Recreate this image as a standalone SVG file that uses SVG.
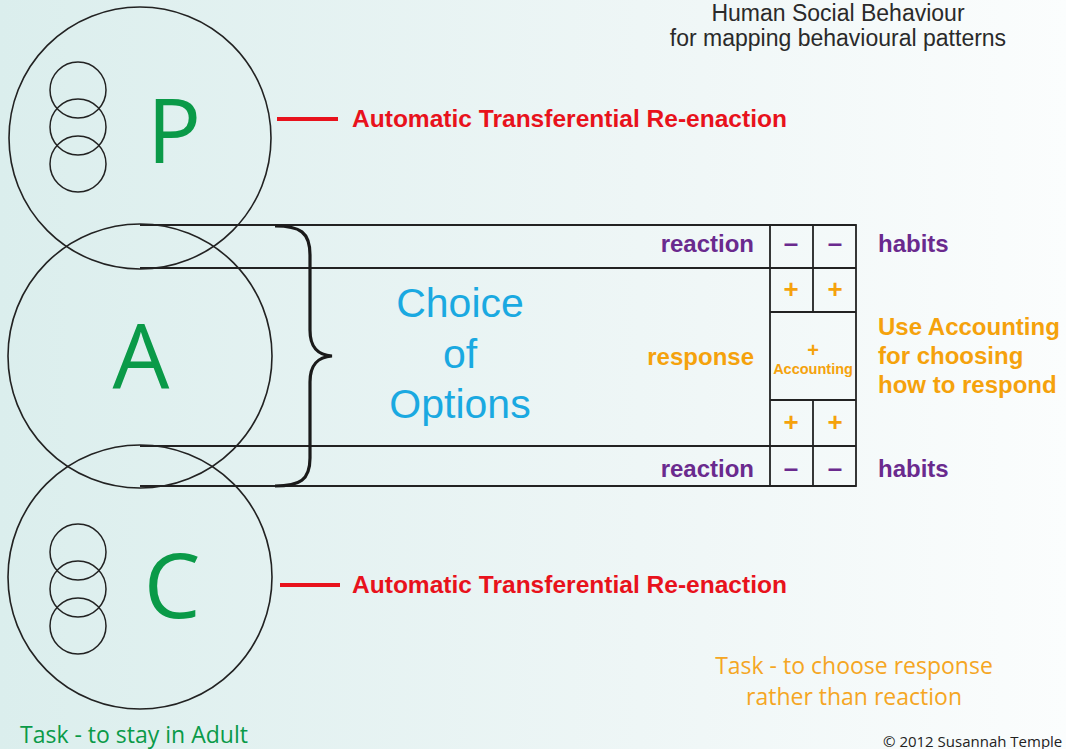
<svg xmlns="http://www.w3.org/2000/svg" width="1066" height="749" viewBox="0 0 1066 749">
<defs>
<linearGradient id="bg" x1="0" y1="0" x2="1" y2="0">
<stop offset="0" stop-color="#dbeeed"/>
<stop offset="0.6" stop-color="#eef6f6"/>
<stop offset="1" stop-color="#fbfdfd"/>
</linearGradient>
<style>
.ln{fill:none;stroke:#222;stroke-width:1.6}
.sm{fill:none;stroke:#222;stroke-width:1.5}
.tb{fill:none;stroke:#222;stroke-width:1.8}
.big{font-family:"Open Sans","Liberation Sans",sans-serif;fill:#0a9a48;text-anchor:middle}
.red{font-family:"Liberation Sans",Arial,sans-serif;font-weight:bold;font-size:24px;fill:#e8121c}
.pur{font-family:"Liberation Sans",Arial,sans-serif;font-weight:bold;font-size:24px;fill:#6a2a8e}
.org{font-family:"Liberation Sans",Arial,sans-serif;font-weight:bold;fill:#f5a20c}
.sym{font-family:"Liberation Sans",Arial,sans-serif;font-weight:bold;font-size:26px;text-anchor:middle}
.blue{font-family:"Liberation Sans",Arial,sans-serif;font-size:41px;fill:#1aa9e1;text-anchor:middle}
.ttl{font-family:"Liberation Sans",Arial,sans-serif;font-size:23px;fill:#2a2a2a;text-anchor:middle}
.task{font-family:"Open Sans","Liberation Sans",sans-serif;font-size:23px}
</style>
</defs>
<rect width="1066" height="749" fill="url(#bg)"/>

<g id="title">
<text class="ttl" x="838" y="21">Human Social Behaviour</text>
<text class="ttl" x="838" y="46">for mapping behavioural patterns</text>
</g>

<g id="node-P">
<circle class="ln" cx="140" cy="138" r="131"/>
<circle class="sm" cx="78" cy="90" r="28"/>
<circle class="sm" cx="78" cy="127" r="28"/>
<circle class="sm" cx="78" cy="164" r="28"/>
<text class="big" x="174" y="163" font-size="90">P</text>
</g>

<g id="node-A">
<circle class="ln" cx="140" cy="356" r="132"/>
<text class="big" x="141" y="388" font-size="90">A</text>
</g>

<g id="node-C">
<circle class="ln" cx="140" cy="577" r="132"/>
<circle class="sm" cx="78" cy="552" r="28"/>
<circle class="sm" cx="78" cy="589" r="28"/>
<circle class="sm" cx="78" cy="626" r="28"/>
<text class="big" x="172" y="618" font-size="90">C</text>
</g>

<g id="connectors">
<line x1="277" y1="119" x2="338" y2="119" stroke="#e8121c" stroke-width="4"/>
<line x1="280" y1="585" x2="340" y2="585" stroke="#e8121c" stroke-width="4"/>
<line class="tb" x1="140" y1="225" x2="856" y2="225"/>
<line class="tb" x1="140" y1="268" x2="770" y2="268"/>
<line class="tb" x1="140" y1="446" x2="770" y2="446"/>
<line class="tb" x1="140" y1="486" x2="856" y2="486"/>
<path d="M275,226 C300,226 310,232 310,255 L310,330 C310,348 318,355 332,356 C318,357 310,364 310,382 L310,458 C310,480 300,486 275,486" fill="none" stroke="#1a1a1a" stroke-width="3.2"/>
</g>

<g id="table">
<rect class="tb" x="770" y="225" width="86" height="261"/>
<line class="tb" x1="770" y1="268" x2="856" y2="268"/>
<line class="tb" x1="770" y1="312" x2="856" y2="312"/>
<line class="tb" x1="770" y1="400" x2="856" y2="400"/>
<line class="tb" x1="770" y1="446" x2="856" y2="446"/>
<line class="tb" x1="813" y1="225" x2="813" y2="312"/>
<line class="tb" x1="813" y1="400" x2="813" y2="486"/>
<g fill="#6a2a8e" class="sym">
<text x="791" y="252">–</text><text x="835" y="252">–</text>
<text x="791" y="477">–</text><text x="835" y="477">–</text>
</g>
<g fill="#f5a20c" class="sym" font-size="24">
<text x="791" y="298">+</text><text x="835" y="298">+</text>
<text x="791" y="431">+</text><text x="835" y="431">+</text>
<text x="813" y="357" font-size="20">+</text>
</g>
<text class="org" x="813" y="374" font-size="14.5" text-anchor="middle">Accounting</text>
</g>

<g id="labels">
<text class="red" x="352" y="127" textLength="435" lengthAdjust="spacingAndGlyphs">Automatic Transferential Re-enaction</text>
<text class="red" x="352" y="593" textLength="435" lengthAdjust="spacingAndGlyphs">Automatic Transferential Re-enaction</text>
<text class="pur" x="754" y="252" text-anchor="end">reaction</text>
<text class="pur" x="754" y="477" text-anchor="end">reaction</text>
<text class="pur" x="878" y="252">habits</text>
<text class="pur" x="878" y="477">habits</text>
<text class="org" x="754" y="365" font-size="24" text-anchor="end">response</text>
<text class="org" x="878" y="335" font-size="24">Use Accounting</text>
<text class="org" x="878" y="364" font-size="24">for choosing</text>
<text class="org" x="878" y="393" font-size="24">how to respond</text>
<text class="blue" x="460" y="317">Choice</text>
<text class="blue" x="460" y="368">of</text>
<text class="blue" x="460" y="418">Options</text>
<text class="task" x="854" y="674" fill="#f5a623" text-anchor="middle">Task - to choose response</text>
<text class="task" x="854" y="705" fill="#f5a623" text-anchor="middle">rather than reaction</text>
<text class="task" x="20" y="743" fill="#0a9a48">Task - to stay in Adult</text>
<text x="883" y="747" font-family="'Open Sans','Liberation Sans',sans-serif" font-size="15" fill="#222">© 2012 Susannah Temple</text>
</g>
</svg>
